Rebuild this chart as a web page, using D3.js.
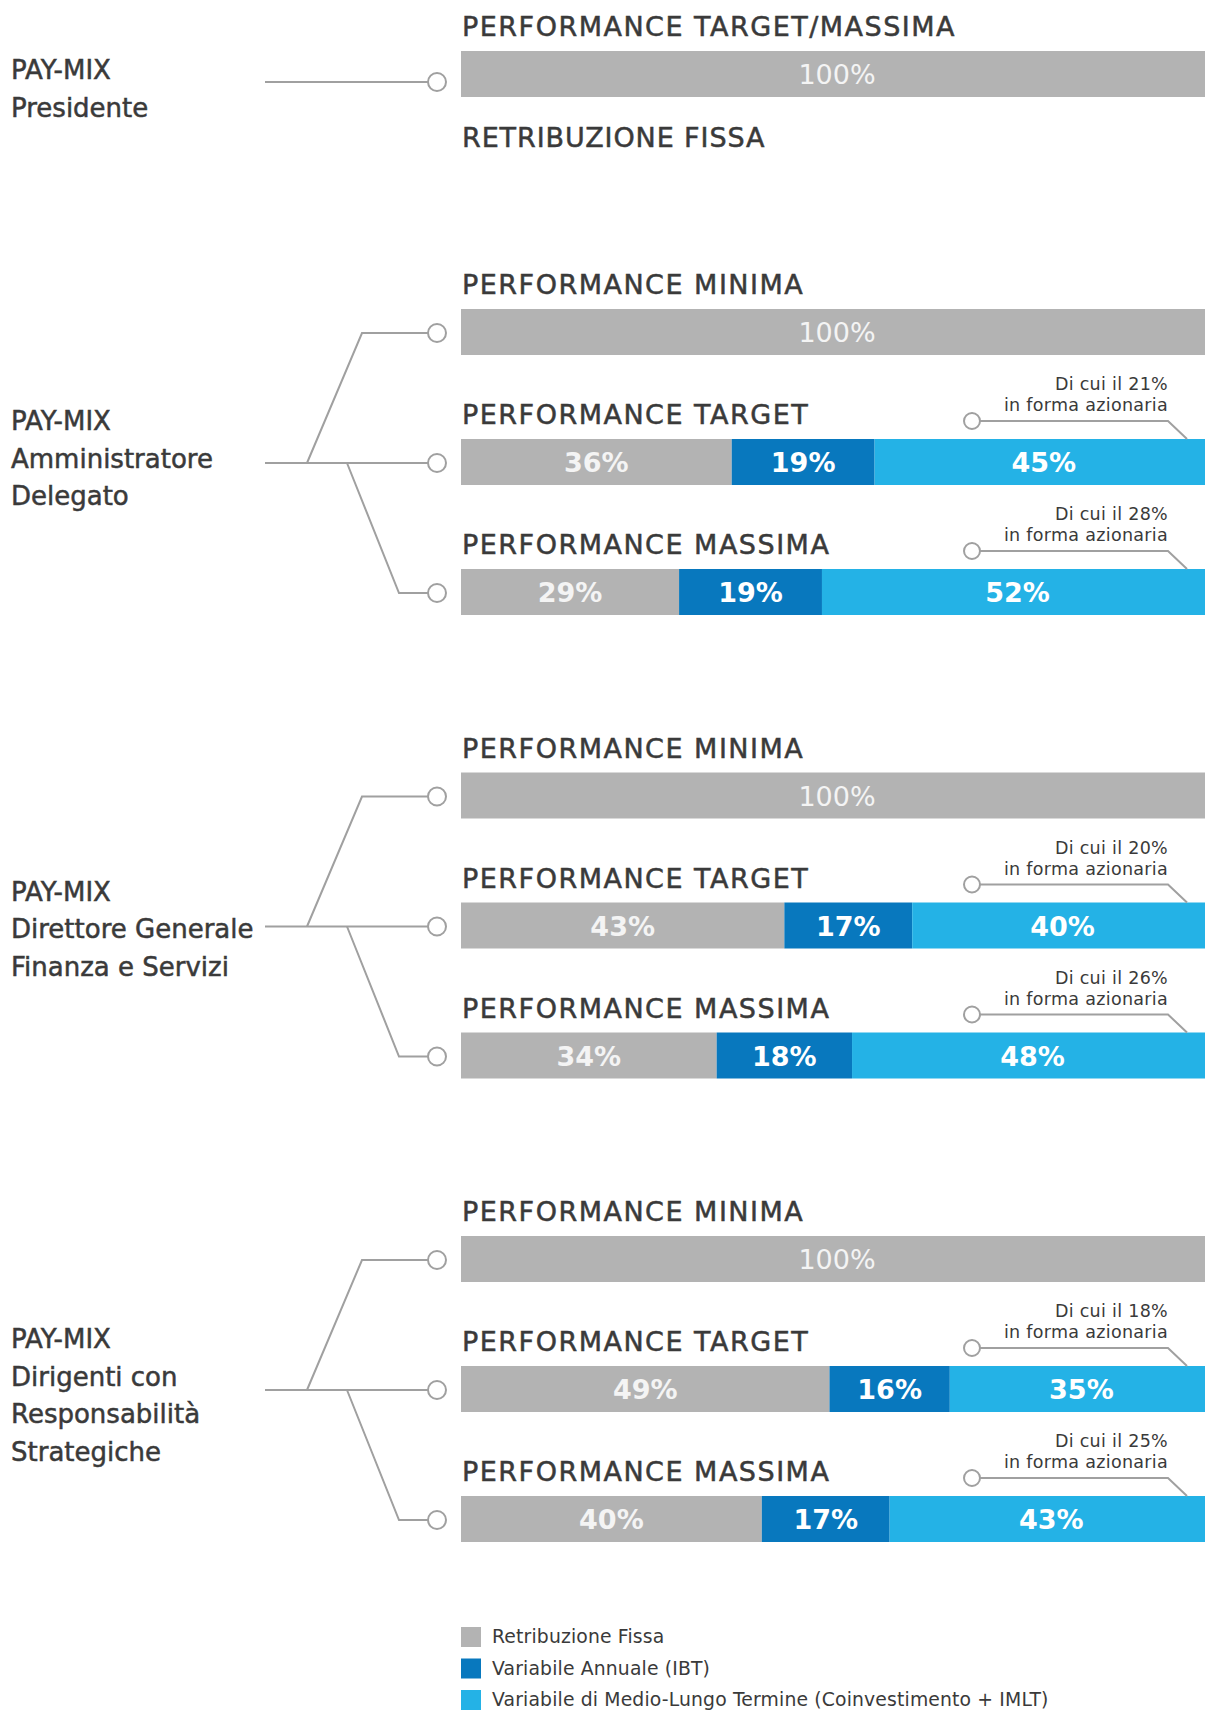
<!DOCTYPE html>
<html><head><meta charset="utf-8">
<script src="https://cdn.jsdelivr.net/npm/d3@7"></script>
<style>
html,body{margin:0;padding:0;background:#fff;overflow:hidden}
svg text{font-family:"DejaVu Sans",sans-serif}
</style></head>
<body><div id="chart"></div>
<script>
// ---------- DATA ----------
const seriesNames = ["Retribuzione Fissa", "Variabile Annuale (IBT)", "Variabile di Medio-Lungo Termine (Coinvestimento + IMLT)"];
const seriesKeys = ["fisso", "ibt", "mlt"];
const sectionLabels = [
  ["PAY-MIX", "Presidente"],
  ["PAY-MIX", "Amministratore", "Delegato"],
  ["PAY-MIX", "Direttore Generale", "Finanza e Servizi"],
  ["PAY-MIX", "Dirigenti con", "Responsabilità", "Strategiche"]
];
const rowSection = [0, 1, 1, 1, 2, 2, 2, 3, 3, 3];
const rowIndex   = [0, 0, 1, 2, 0, 1, 2, 0, 1, 2];
const rowTitles = ["PERFORMANCE TARGET/MASSIMA",
  "PERFORMANCE MINIMA", "PERFORMANCE TARGET", "PERFORMANCE MASSIMA",
  "PERFORMANCE MINIMA", "PERFORMANCE TARGET", "PERFORMANCE MASSIMA",
  "PERFORMANCE MINIMA", "PERFORMANCE TARGET", "PERFORMANCE MASSIMA"];
const retribuzioneFissa = [100, 100, 36, 29, 100, 43, 34, 100, 49, 40];
const variabileAnnuale  = [0, 0, 19, 19, 0, 17, 18, 0, 16, 17];
const variabileMLT      = [0, 0, 45, 52, 0, 40, 48, 0, 35, 43];
const quotaAzionaria    = [null, null, 21, 28, null, 20, 26, null, 18, 25];
const presidenteNote = "RETRIBUZIONE FISSA";

// ---------- LAYOUT ----------
const W = 1205, H = 1711;
const colors = ["#b3b3b3", "#0878be", "#24b2e6"];
const lineCol = "#a0a0a0";
const textCol = "#3a3a3a";
const barH = 46;

const x = d3.scaleLinear().domain([0, 100]).range([461, 1213]);
function rowTop(i) {
  const s = rowSection[i], r = rowIndex[i];
  if (s === 0) return 51;
  return 309 + (s - 1) * 463.5 + r * 130;
}

const rows = retribuzioneFissa.map((v, i) => ({
  i, fisso: v, ibt: variabileAnnuale[i], mlt: variabileMLT[i]
}));
const stack = d3.stack().keys(seriesKeys)(rows);

const svg = d3.select("#chart").append("svg").attr("width", W).attr("height", H);

function thicken(sel, w) {
  return sel.attr("stroke", function () { return d3.select(this).attr("fill"); })
    .attr("stroke-width", w).attr("paint-order", "stroke");
}

// bars
stack.forEach((layer, k) => {
  svg.append("g").selectAll("rect").data(layer.filter(d => d[1] > d[0])).join("rect")
    .attr("x", d => x(d[0])).attr("width", d => x(d[1]) - x(d[0]))
    .attr("y", d => rowTop(d.data.i)).attr("height", barH)
    .attr("fill", colors[k]);
  svg.append("g").selectAll("text").data(layer.filter(d => d[1] > d[0])).join("text")
    .attr("x", d => (x(d[0]) + x(d[1])) / 2)
    .attr("y", d => rowTop(d.data.i) + barH / 2 + 10)
    .attr("text-anchor", "middle")
    .attr("font-size", 27)
    .attr("font-weight", d => (d[1] - d[0]) === 100 ? "normal" : "bold")
    .attr("fill", k === 0 ? "#f4f4f4" : "#ffffff")
    .text(d => (d[1] - d[0]) + "%");
});

// row titles
const titles = svg.append("g").selectAll("text").data(rowTitles).join("text")
  .attr("x", 462).attr("y", (d, i) => rowTop(i) - 15)
  .attr("font-size", 27).attr("letter-spacing", 1.5)
  .attr("fill", textCol).text(d => d);
thicken(titles, 0.5);
thicken(svg.append("text").attr("x", 462).attr("y", rowTop(0) + barH + 50)
  .attr("font-size", 27).attr("letter-spacing", 0.9)
  .attr("fill", textCol).text(presidenteNote), 0.5);

// share callouts
const callouts = rows.filter(d => quotaAzionaria[d.i] != null);
const cg = svg.append("g").selectAll("g").data(callouts).join("g");
cg.append("path")
  .attr("d", d => { const t = rowTop(d.i); return `M980,${t - 18}H1168L1187,${t}`; })
  .attr("fill", "none").attr("stroke", lineCol).attr("stroke-width", 2);
cg.append("circle").attr("cx", 972).attr("cy", d => rowTop(d.i) - 18).attr("r", 8)
  .attr("fill", "#fff").attr("stroke", lineCol).attr("stroke-width", 2);
cg.append("text").attr("x", 1168).attr("y", d => rowTop(d.i) - 49)
  .attr("text-anchor", "end").attr("font-size", 17.5).attr("letter-spacing", 0.3).attr("fill", textCol)
  .text(d => `Di cui il ${quotaAzionaria[d.i]}%`);
cg.append("text").attr("x", 1168).attr("y", d => rowTop(d.i) - 28)
  .attr("text-anchor", "end").attr("font-size", 17.5).attr("letter-spacing", 0.3).attr("fill", textCol)
  .text("in forma azionaria");

// tree connectors + section labels
const labelShift = [-4, -41, -34, -50];
sectionLabels.forEach((lines, s) => {
  const idx = rows.filter(d => rowSection[d.i] === s).map(d => d.i);
  const g = svg.append("g");
  const cy = i => rowTop(i) + barH / 2 + (s === 0 ? 8 : 1);
  if (idx.length === 1) {
    g.append("path").attr("d", `M265,${cy(idx[0])}H437`);
  } else {
    const [a, b, c] = idx;
    g.append("path").attr("d", `M265,${cy(b)}H437`);
    g.append("path").attr("d", `M307,${cy(b)}L362,${cy(a)}H437`);
    g.append("path").attr("d", `M347,${cy(b)}L399,${cy(c)}H437`);
  }
  g.selectAll("path").attr("fill", "none").attr("stroke", lineCol).attr("stroke-width", 2);
  g.selectAll("circle").data(idx).join("circle")
    .attr("cx", 437).attr("cy", cy).attr("r", 9)
    .attr("fill", "#fff").attr("stroke", lineCol).attr("stroke-width", 2);
  const mid = idx.length === 1 ? idx[0] : idx[1];
  const base = rowTop(mid) + barH / 2 + labelShift[s];
  const t = g.selectAll("text").data(lines).join("text")
    .attr("x", 11).attr("y", (d, j) => base + j * 37.5 + 9)
    .attr("font-size", 26).attr("fill", textCol)
    .text(d => d);
  thicken(t, 0.5);
});

// legend
const lg = svg.append("g").selectAll("g").data(seriesNames).join("g")
  .attr("transform", (d, i) => `translate(461,${1627 + i * 31.5})`);
lg.append("rect").attr("width", 20).attr("height", 20).attr("fill", (d, i) => colors[i]);
lg.append("text").attr("x", 31).attr("y", 16).attr("font-size", 18.8).attr("letter-spacing", 0.15).attr("fill", textCol).text(d => d);
</script></body></html>
